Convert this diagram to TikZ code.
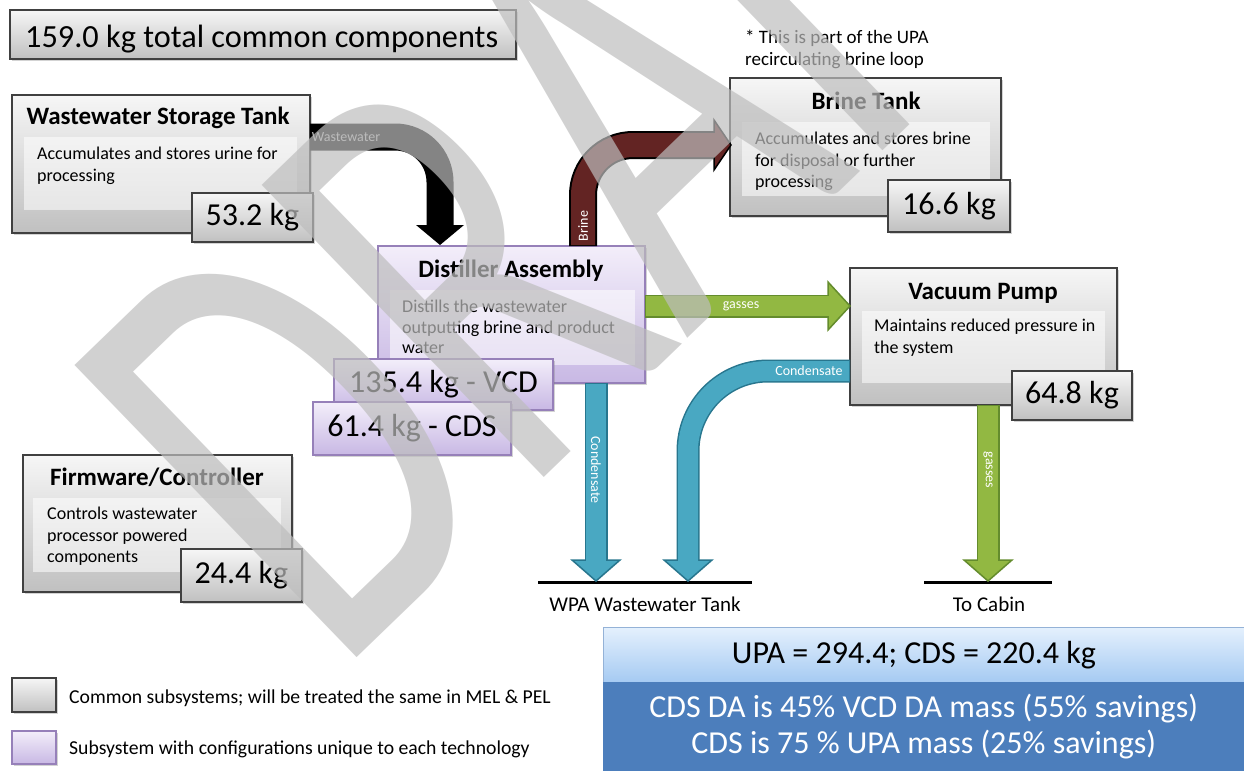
\documentclass[tikz,border=0pt]{standalone}
\usepackage{fontspec}
\setmainfont{Carlito}
\usetikzlibrary{calc,shadows}
\definecolor{gbord}{RGB}{64,64,64}
\definecolor{gtop}{RGB}{246,246,246}
\definecolor{gbot}{RGB}{192,192,192}
\definecolor{ptop}{RGB}{243,238,250}
\definecolor{pbot}{RGB}{200,184,228}
\definecolor{pbord}{RGB}{150,128,185}
\definecolor{brinered}{RGB}{99,36,35}
\definecolor{gfill}{RGB}{146,184,66}
\definecolor{gline}{RGB}{100,140,45}
\definecolor{bfill}{RGB}{73,168,194}
\definecolor{bline}{RGB}{40,118,142}
\definecolor{sumtop}{RGB}{228,240,253}
\definecolor{sumbot}{RGB}{165,202,242}
\definecolor{sumblue}{RGB}{76,126,188}
\tikzset{
  box/.style={anchor=north west, inner sep=0pt, outer sep=0pt, line width=1.3pt,
    drop shadow={shadow xshift=2pt,shadow yshift=-2pt,opacity=0.35}},
  gbox/.style={box, draw=gbord, top color=gtop, bottom color=gbot},
  pbox/.style={box, draw=pbord, top color=ptop, bottom color=pbot},
  panel/.style={anchor=north west, inner sep=0pt, fill=white, fill opacity=0.55},
  ttl/.style={anchor=base, inner sep=0pt, font=\fontsize{25}{29}\selectfont\bfseries},
  desc/.style={anchor=north west, inner sep=0pt, align=left, font=\fontsize{18}{21.5}\selectfont},
  mass/.style={font=\fontsize{32}{36}\selectfont},
  flowlbl/.style={font=\fontsize{14}{16}\selectfont, text=white, inner sep=0pt},
  plain/.style={inner sep=0pt, font=\fontsize{21}{25}\selectfont},
  legendtxt/.style={inner sep=0pt, anchor=west, font=\fontsize{19.7}{23}\selectfont},
}
\begin{document}
\begin{tikzpicture}[x=1pt,y=-1pt]
\useasboundingbox (0,0) rectangle (1244,771);
\clip (0,0) rectangle (1244,771);

% total
\node[gbox, minimum width=506pt, minimum height=49pt] (total) at (10,10) {};
\node[anchor=base west, inner sep=0pt, font=\fontsize{32.3}{36}\selectfont] (totaltxt) at (25,47) {159.0 kg total common components};

% Wastewater storage tank
\node[gbox, minimum width=298pt, minimum height=138pt] (wst) at (12,95) {};
\node[panel, minimum width=273pt, minimum height=73pt] (wstp) at (24,137) {};
\node[ttl] (wstt) at (158,124) {Wastewater Storage Tank};
\node[desc] (wstd) at (37,147) {Accumulates and stores urine for\\processing};
\node[gbox, mass, minimum width=121pt, minimum height=49pt] (wstm) at (192,193) {53.2 kg};

% Distiller assembly
\node[pbox, minimum width=267pt, minimum height=137pt] (da) at (378,246) {};
\node[panel, minimum width=245pt, minimum height=75pt] (dap) at (390,290) {};
\node[ttl] (dat) at (511,277) {Distiller Assembly};
\node[desc, font=\fontsize{18}{20.5}\selectfont] (dad) at (402,300) {Distills the wastewater\\outputting brine and product\\water};
\node[pbox, mass, minimum width=219pt, minimum height=51pt] (vcd) at (334,359) {135.4 kg - VCD};
\node[pbox, mass, minimum width=198pt, minimum height=53pt] (cds) at (313,402) {61.4 kg - CDS};

% Brine tank
\node[desc, font=\fontsize{19}{22}\selectfont] (note) at (745,29.5) {* This is part of the UPA\\recirculating brine loop};
\node[gbox, minimum width=271pt, minimum height=138pt] (bt) at (730,78) {};
\node[panel, minimum width=248pt, minimum height=74pt] (btp) at (742,122) {};
\node[ttl] (btt) at (866,109) {Brine Tank};
\node[desc] (btd) at (755,132) {Accumulates and stores brine\\for disposal or further\\processing};
\node[gbox, mass, minimum width=122pt, minimum height=52pt] (btm) at (888,180) {16.6 kg};

% Vacuum pump
\node[gbox, minimum width=267pt, minimum height=137pt] (vp) at (850,268) {};
\node[panel, minimum width=243pt, minimum height=72pt] (vpp) at (862,311) {};
\node[ttl] (vpt) at (983,299) {Vacuum Pump};
\node[desc] (vpd) at (874,319) {Maintains reduced pressure in\\the system};
\node[gbox, mass, minimum width=120pt, minimum height=49pt] (vpm) at (1012,371) {64.8 kg};

% Firmware / controller
\node[gbox, minimum width=269pt, minimum height=137pt] (fc) at (23,455) {};
\node[panel, minimum width=248pt, minimum height=74pt] (fcp) at (33,498) {};
\node[ttl] (fct) at (157,485) {Firmware/Controller};
\node[desc] (fcd) at (47,507) {Controls wastewater\\processor powered\\components};
\node[gbox, mass, minimum width=121pt, minimum height=53pt] (fcm) at (181,549) {24.4 kg};

% destinations
\coordinate (wpaL) at (538,582);
\coordinate (wpaR) at (752,582);
\coordinate (cabL) at (924,582);
\coordinate (cabR) at (1052,582);
\draw[line width=3pt] (wpaL) -- (wpaR);
\draw[line width=3pt] (cabL) -- (cabR);
\node[plain] (wpa) at (645,604) {WPA Wastewater Tank};
\node[plain] (cab) at (989,604) {To Cabin};

% wastewater arrow
\coordinate (ww0) at ($(wst.north east)+(0,42)$);
\coordinate (ww1) at ($(da.north west)+(62,-21)$);
\coordinate (wwt) at ($(da.north west)+(62,-1)$);
\draw[line width=27pt, black, rounded corners=45pt] (ww0) -- (ww0 -| ww1) -- (ww1);
\fill[black] ($(ww1)+(-24,0)$) -- ($(ww1)+(24,0)$) -- (wwt) -- cycle;
\node[flowlbl, text=white!72!black] (wwl) at (346,137) {Wastewater};

% brine arrow
\coordinate (br0) at ($(da.north west)+(205,0)$);
\coordinate (br1) at ($(bt.north west)+(-16,67)$);
\coordinate (brt) at ($(bt.north west)+(1,67)$);
\draw[line width=28pt, black, rounded corners=50pt] (br0) -- (br0 |- br1) -- (br1);
\filldraw[fill=brinered, draw=black, line width=1.5pt] ($(br1)+(0,-25)$) -- ($(br1)+(0,25)$) -- (brt) -- cycle;
\draw[line width=24pt, brinered, rounded corners=50pt] ($(br0)+(0,-1)$) -- (br0 |- br1) -- ($(br1)+(1.5,0)$);
\node[flowlbl, rotate=90] (brl) at (583,226) {Brine};

% gasses to vacuum pump
\coordinate (g0) at ($(da.north east)+(0,60)$);
\coordinate (g1) at ($(vp.north west)+(-22,38)$);
\coordinate (gt) at ($(vp.north west)+(0,38)$);
\draw[line width=23pt, gline] (g0) -- (g1);
\filldraw[fill=gfill, draw=gline, line width=1.5pt] ($(g1)+(0,-24)$) -- ($(g1)+(0,24)$) -- (gt) -- cycle;
\draw[line width=20pt, gfill] ($(g0)+(1,0)$) -- ($(g1)+(1.5,0)$);
\node[flowlbl] (gl) at (741,306) {gasses};

% condensate from distiller
\coordinate (c0) at ($(da.south west)+(218,0)$);
\coordinate (c1) at ($(wpaL)+(58,-22)$);
\coordinate (ct) at ($(wpaL)+(58,-1)$);
\draw[line width=23pt, bline] (c0) -- (c1);
\filldraw[fill=bfill, draw=bline, line width=1.5pt] ($(c1)+(-24,0)$) -- ($(c1)+(24,0)$) -- (ct) -- cycle;
\draw[line width=20pt, bfill] ($(c0)+(0,1)$) -- ($(c1)+(0,1.5)$);
\node[flowlbl, rotate=-90] (cl) at (596,470) {Condensate};

% condensate from vacuum pump
\coordinate (d0) at ($(vp.north west)+(0,103)$);
\coordinate (d1) at ($(wpaL)+(150,-22)$);
\coordinate (dt) at ($(wpaL)+(150,-1)$);
\draw[line width=23pt, bline, rounded corners=80pt] (d0) -- (d0 -| d1) -- (d1);
\filldraw[fill=bfill, draw=bline, line width=1.5pt] ($(d1)+(-24,0)$) -- ($(d1)+(24,0)$) -- (dt) -- cycle;
\draw[line width=20pt, bfill, rounded corners=80pt] ($(d0)+(-1,0)$) -- (d0 -| d1) -- ($(d1)+(0,1.5)$);
\node[flowlbl] (cl2) at (809,371) {Condensate};

% gasses to cabin
\coordinate (e0) at ($(vp.south west)+(138,0)$);
\coordinate (e1) at ($(cabL)+(64,-22)$);
\coordinate (et) at ($(cabL)+(64,-1)$);
\draw[line width=23pt, gline] (e0) -- (e1);
\filldraw[fill=gfill, draw=gline, line width=1.5pt] ($(e1)+(-24,0)$) -- ($(e1)+(24,0)$) -- (et) -- cycle;
\draw[line width=20pt, gfill] ($(e0)+(0,1)$) -- ($(e1)+(0,1.5)$);
\node[flowlbl, rotate=-90] (gl2) at (988,470) {gasses};

% legend
\node[gbox, minimum width=44pt, minimum height=34pt] (lg1) at (12,678) {};
\node[pbox, minimum width=44pt, minimum height=33pt] (lg2) at (12,731) {};
\node[legendtxt] (lg1t) at (69,698) {Common subsystems; will be treated the same in MEL \& PEL};
\node[legendtxt] (lg2t) at (69,749) {Subsystem with configurations unique to each technology};

% summary
\node[anchor=north west, minimum width=641pt, minimum height=55pt, top color=sumtop, bottom color=sumbot, draw=sumblue!60, line width=1pt, inner sep=0pt] (sum1) at (603,627) {};
\node[inner sep=0pt, font=\fontsize{32}{36}\selectfont] (sum1t) at ($(sum1.center)+(-10,0)$) {UPA = 294.4; CDS = 220.4 kg};
\node[anchor=north west, minimum width=641pt, minimum height=89pt, fill=sumblue, text=white, align=center, inner sep=0pt, font=\fontsize{32}{36}\selectfont] (sum2) at (603,682) {CDS DA is 45\% VCD DA mass (55\% savings)\\CDS is 75 \% UPA mass (25\% savings)};

% watermark
\begin{scope}[shift={(336,678)}, rotate=44, xscale=0.665]
\node[anchor=base west, inner sep=0pt, transform shape, text=black!26, fill opacity=0.7, font=\fontsize{633}{633}\selectfont] (draft) at (0,0) {DRAFT};
\end{scope}
\end{tikzpicture}
\end{document}
